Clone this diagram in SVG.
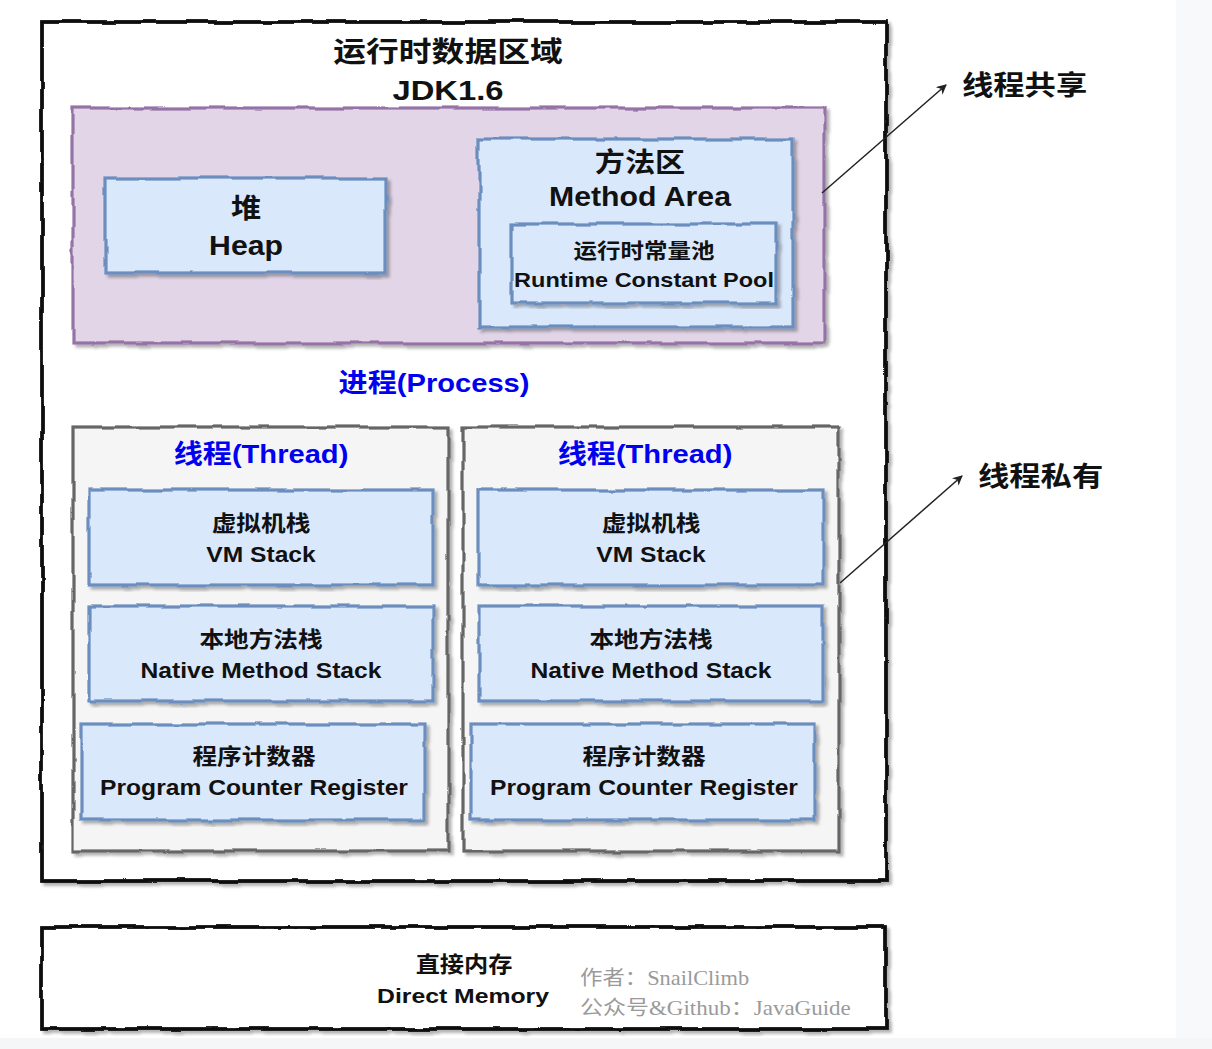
<svg xmlns="http://www.w3.org/2000/svg" width="1212" height="1049" viewBox="0 0 1212 1049">
<defs>
<filter id="sk" x="-5%" y="-5%" width="110%" height="112%">
<feTurbulence type="fractalNoise" baseFrequency="0.03" numOctaves="2" seed="4" result="n"/>
<feDisplacementMap in="SourceGraphic" in2="n" scale="5" xChannelSelector="R" yChannelSelector="G" result="d"/>
<feDropShadow in="d" dx="3" dy="3" stdDeviation="1.5" flood-color="#000" flood-opacity="0.3"/>
</filter>
<marker id="ah" viewBox="0 0 10 10" refX="9" refY="5" markerWidth="10" markerHeight="10" markerUnits="userSpaceOnUse" orient="auto">
<path d="M0,0 L10,5 L0,10 L3,5 Z" fill="#222"/>
</marker>
<style>
.box{stroke-width:3.2;filter:url(#sk)}
.outer{fill:#fff;stroke:#111;stroke-width:3.8}
.purple{fill:#e1d5e7;stroke:#9673a6}
.blue{fill:#dae8fc;stroke:#6c8ebf}
.grey{fill:#f5f5f5;stroke:#666}
text{font-family:"Liberation Sans","Noto Sans CJK SC",sans-serif;font-weight:bold;fill:#111;text-anchor:middle}
.b{fill:#0000f0}
.l{text-anchor:start}
.wm{font-family:"Liberation Serif","Noto Sans CJK SC",serif;font-weight:normal;fill:#9a9a9a;text-anchor:start;font-size:20px}
.conn line{stroke:#222;stroke-width:1.5;marker-end:url(#ah)}
</style>
</defs>
<rect width="1212" height="1049" fill="#fff"/>
<rect x="1176" y="0" width="36" height="1049" fill="#f8f9fb"/>
<rect x="0" y="1038" width="1212" height="11" fill="#f5f6f8"/>

<g id="runtime-area">
<rect class="box outer" x="42" y="22" width="844" height="859"/>
<text font-size="28" transform="translate(448,62) scale(1.17,1)">运行时数据区域</text>
<text font-size="28" transform="translate(448,100) scale(1.17,1)">JDK1.6</text>
</g>

<g id="shared-area">
<rect class="box purple" x="73" y="108" width="751" height="235"/>
</g>

<g id="heap">
<rect class="box blue" x="105" y="178" width="281" height="95"/>
<text font-size="27" transform="translate(246,218) scale(1.12,1)">堆</text>
<text font-size="27" transform="translate(246,255) scale(1.12,1)">Heap</text>
</g>

<g id="method-area">
<rect class="box blue" x="479" y="139" width="314" height="188"/>
<text font-size="27" transform="translate(640,172) scale(1.12,1)">方法区</text>
<text font-size="27" transform="translate(640,206) scale(1.12,1)">Method Area</text>
</g>

<g id="runtime-constant-pool">
<rect class="box blue" x="512" y="224" width="264" height="79"/>
<text font-size="21" transform="translate(644,258) scale(1.12,1)">运行时常量池</text>
<text font-size="21" transform="translate(644,287) scale(1.12,1)">Runtime Constant Pool</text>
</g>

<g id="process-label">
<text class="b" font-size="26" transform="translate(434,392) scale(1.12,1)">进程(Process)</text>
</g>

<g id="thread-left">
<rect class="box grey" x="73" y="427" width="375" height="424"/>
<text class="b" font-size="26" transform="translate(261,463) scale(1.12,1)">线程(Thread)</text>
</g>
<g id="vm-stack-left">
<rect class="box blue" x="89" y="490" width="344" height="95"/>
<text font-size="22" transform="translate(261,531) scale(1.12,1)">虚拟机栈</text>
<text font-size="22" transform="translate(261,562) scale(1.12,1)">VM Stack</text>
</g>
<g id="native-stack-left">
<rect class="box blue" x="89" y="606" width="344" height="95"/>
<text font-size="22" transform="translate(261,647) scale(1.12,1)">本地方法栈</text>
<text font-size="22" transform="translate(261,678) scale(1.12,1)">Native Method Stack</text>
</g>
<g id="pc-left">
<rect class="box blue" x="81" y="724" width="344" height="96"/>
<text font-size="22" transform="translate(254,764) scale(1.12,1)">程序计数器</text>
<text font-size="22" transform="translate(254,795) scale(1.12,1)">Program Counter Register</text>
</g>

<g id="thread-right">
<rect class="box grey" x="463" y="427" width="376" height="424"/>
<text class="b" font-size="26" transform="translate(645,463) scale(1.12,1)">线程(Thread)</text>
</g>
<g id="vm-stack-right">
<rect class="box blue" x="479" y="490" width="344" height="95"/>
<text font-size="22" transform="translate(651,531) scale(1.12,1)">虚拟机栈</text>
<text font-size="22" transform="translate(651,562) scale(1.12,1)">VM Stack</text>
</g>
<g id="native-stack-right">
<rect class="box blue" x="479" y="606" width="344" height="95"/>
<text font-size="22" transform="translate(651,647) scale(1.12,1)">本地方法栈</text>
<text font-size="22" transform="translate(651,678) scale(1.12,1)">Native Method Stack</text>
</g>
<g id="pc-right">
<rect class="box blue" x="471" y="724" width="344" height="96"/>
<text font-size="22" transform="translate(644,764) scale(1.12,1)">程序计数器</text>
<text font-size="22" transform="translate(644,795) scale(1.12,1)">Program Counter Register</text>
</g>

<g id="label-shared">
<text class="l" font-size="27" transform="translate(962,95) scale(1.16,1)">线程共享</text>
</g>
<g id="label-private">
<text class="l" font-size="27" transform="translate(978,486) scale(1.16,1)">线程私有</text>
</g>

<g id="direct-memory">
<rect class="box outer" x="42" y="927" width="844" height="102"/>
<text font-size="22" transform="translate(464,972) scale(1.1,1)">直接内存</text>
<text font-size="21" transform="translate(463,1003) scale(1.18,1)">Direct Memory</text>
<text class="wm" transform="translate(580,985) scale(1.12,1)">作者：SnailClimb</text>
<text class="wm" transform="translate(580,1015) scale(1.15,1)">公众号&amp;Github：JavaGuide</text>
</g>

<g id="connectors" class="conn">
<line x1="822" y1="193" x2="946" y2="85"/>
<line x1="840" y1="583" x2="962" y2="476"/>
</g>
</svg>
